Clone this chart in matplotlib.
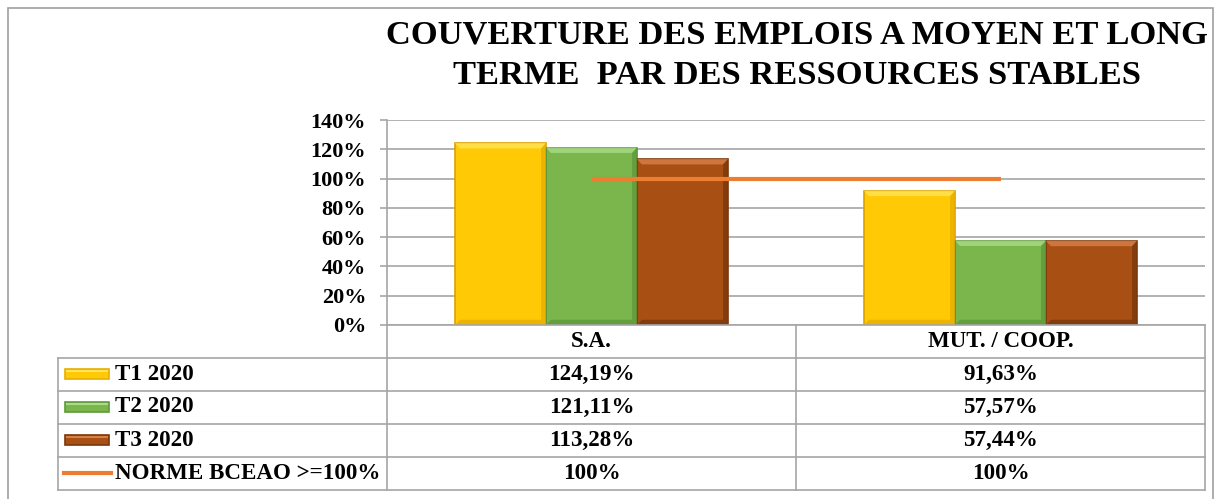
import matplotlib
matplotlib.use("Agg")
import matplotlib.pyplot as plt
from matplotlib.patches import Rectangle, Polygon
from matplotlib.lines import Line2D

plt.rcParams['font.family'] = ['Liberation Serif', 'DejaVu Serif']
plt.rcParams['font.weight'] = 'bold'

# data
categories = ['S.A.', 'MUT. / COOP.']
series_names = ['T1 2020', 'T2 2020', 'T3 2020']
series_values = [
    [124.19, 91.63],
    [121.11, 57.57],
    [113.28, 57.44],
]
norm_name = 'NORME BCEAO >=100%'
norm_values = [100, 100]
yticks = [0, 20, 40, 60, 80, 100, 120, 140]
title = 'COUVERTURE DES EMPLOIS A MOYEN ET LONG\nTERME  PAR DES RESSOURCES STABLES'

bar_colors = ['#FFCA05', '#7AB64C', '#A84F14']
edge_colors = ['#D9A300', '#5C8F37', '#7E3A0C']
light_colors = ['#FFE45A', '#A9DC88', '#D98049']
dark_colors = ['#E8AE00', '#5F9A3B', '#7A380C']
norm_color = '#ED7D31'
grid_color = '#A6A6A6'

W, H = 1217, 499
fig = plt.figure(figsize=(W / 100, H / 100), dpi=100)


def px_box(x0, y0, x1, y1):
    # pixel box (top-left origin) -> figure fraction rect
    return [x0 / W, 1 - y1 / H, (x1 - x0) / W, (y1 - y0) / H]


# outer frame
fig.patches.append(Rectangle((8 / W, -0.02), (1213 - 8) / W, 1 - 8 / H + 0.02,
                             transform=fig.transFigure, fill=False,
                             edgecolor='#A0A0A0', linewidth=1.2))

fig.text(797 / W, 1 - 55 / H, title, ha='center', va='center', fontsize=24.8,
         fontweight='bold', linespacing=1.38)

# plot area
ax = fig.add_axes(px_box(387, 120, 1205, 325))
n = len(series_names)
bw = 0.2225
x = list(range(len(categories)))
dx, dy = 0.012, 3.6  # bevel size in data units (~5 px)
for i, (name, vals) in enumerate(zip(series_names, series_values)):
    off = (i - (n - 1) / 2) * bw
    bars = ax.bar([xi + off for xi in x], vals, width=bw, color=bar_colors[i],
                  edgecolor=edge_colors[i], linewidth=1.2, zorder=3)
    for p in bars.patches:
        x0, y0 = p.get_x(), p.get_y()
        x1, y1 = x0 + p.get_width(), y0 + p.get_height()
        # bevel: light top, dark right and bottom
        ax.add_patch(Polygon([(x0, y1), (x1, y1), (x1 - dx, y1 - dy), (x0 + dx, y1 - dy)],
                             closed=True, facecolor=light_colors[i], edgecolor='none',
                             alpha=0.8, zorder=3.5))
        ax.add_patch(Polygon([(x1, y1), (x1, y0), (x1 - dx, y0 + dy), (x1 - dx, y1 - dy)],
                             closed=True, facecolor=dark_colors[i], edgecolor='none',
                             alpha=0.8, zorder=3.5))
        ax.add_patch(Polygon([(x0, y0), (x1, y0), (x1 - dx, y0 + dy), (x0 + dx, y0 + dy)],
                             closed=True, facecolor=dark_colors[i], edgecolor='none',
                             alpha=0.8, zorder=3.5))
ax.plot(x, norm_values, color=norm_color, linewidth=3, zorder=4,
        solid_capstyle='butt')

ax.set_xlim(-0.5, len(categories) - 0.5)
ax.set_ylim(0, 140)
ax.set_yticks(yticks)
ax.set_yticklabels(['%d%%' % t for t in yticks], fontsize=16, fontweight='bold')
ax.set_xticks([])
ax.yaxis.grid(True, color=grid_color, linewidth=1.2)
ax.set_axisbelow(True)
for s in ['top', 'right', 'bottom']:
    ax.spines[s].set_visible(False)
ax.spines['left'].set_color(grid_color)
ax.spines['left'].set_linewidth(1.2)
ax.tick_params(axis='y', length=5, color=grid_color, width=1.2, pad=10)
ax.patch.set_alpha(0)

# data table
tx0, tx1 = 58, 1205
col_x = [387, 796, 1205]
row_y = [325, 357.5, 390.5, 423.5, 456.5, 490]
tab = fig.add_axes(px_box(0, 0, W, H))
tab.set_xlim(0, W)
tab.set_ylim(H, 0)
tab.axis('off')
lc = dict(color=grid_color, linewidth=1.2)
# header row
tab.plot([col_x[0], col_x[-1]], [row_y[0], row_y[0]], **lc)
for r in row_y[1:]:
    tab.plot([tx0, tx1], [r, r], **lc)
tab.plot([tx0, tx0], [row_y[1], row_y[-1]], **lc)
for cx in col_x:
    tab.plot([cx, cx], [row_y[0], row_y[-1]], **lc)

fs = 16.6
for j, cat in enumerate(categories):
    tab.text((col_x[j] + col_x[j + 1]) / 2, (row_y[0] + row_y[1]) / 2, cat,
             ha='center', va='center', fontsize=fs, fontweight='bold')

rows = [(name, vals) for name, vals in zip(series_names, series_values)]
rows.append((norm_name, norm_values))
for i, (name, vals) in enumerate(rows):
    yc = (row_y[i + 1] + row_y[i + 2]) / 2
    if i < n:
        tab.add_patch(Rectangle((65, yc - 5), 44, 10, facecolor=bar_colors[i],
                                edgecolor=dark_colors[i], linewidth=1.2))
        tab.add_line(Line2D([67, 107], [yc - 3, yc - 3], color=light_colors[i],
                            linewidth=1.5))
    else:
        tab.add_line(Line2D([64, 111], [yc, yc], color=norm_color, linewidth=3))
    tab.text(115, yc, name, ha='left', va='center', fontsize=fs, fontweight='bold')
    for j, v in enumerate(vals):
        if float(v).is_integer():
            label = '%d%%' % v
        else:
            label = ('%.2f%%' % v).replace('.', ',')
        tab.text((col_x[j] + col_x[j + 1]) / 2, yc, label, ha='center',
                 va='center', fontsize=fs, fontweight='bold')

fig.savefig('out.png', dpi=100)
